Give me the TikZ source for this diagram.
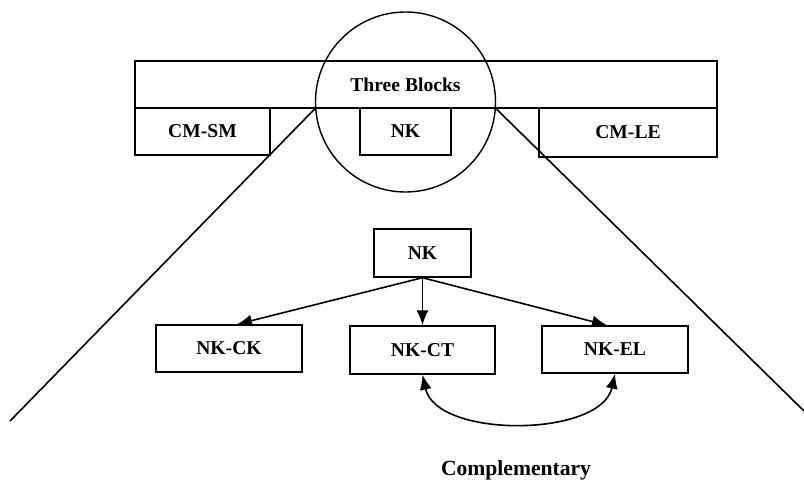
\documentclass[tikz,border=0pt]{standalone}
\usepackage{fontspec}
\setmainfont{Liberation Serif}
\usetikzlibrary{arrows.meta}
\begin{document}
\begin{tikzpicture}[x=0.5pt,y=-0.5pt,
  lbl/.style={inner sep=0pt,font=\fontsize{9.8}{12}\selectfont\bfseries},
  box/.style={draw,line width=0.7pt,lbl},
  link/.style={line width=0.8pt,-{Latex[length=7.5pt,width=6pt]}},
  guide/.style={line width=0.8pt},
]
\useasboundingbox (0,0) rectangle (804,482);

% upper band with its three blocks
\node[box,minimum width=291pt,minimum height=23.5pt] (band) at (426,84.5) {};
\node[lbl] (bandtext) at (405.5,84.5) {Three Blocks};
\node[box,minimum width=67.5pt,minimum height=23.5pt] (cmsm) at (202.5,131.5) {CM-SM};
\node[box,minimum width=45.5pt,minimum height=23.5pt] (nktop) at (405.5,131.5) {NK};
\node[box,minimum width=89pt,minimum height=24.5pt] (cmle) at (628,132.5) {CM-LE};

% magnifying lens and its widening view lines
\node[draw,circle,line width=0.7pt,inner sep=0pt,minimum size=90pt] (lens) at (405.5,102) {};
\coordinate (lensL) at (315.6,108);
\coordinate (lensR) at (495.4,108);
\coordinate (footL) at (10,421);
\coordinate (footR) at (804,411);
\draw[guide] (lensL) -- (footL);
\draw[guide] (lensR) -- (footR);

% NK decomposition
\node[box,minimum width=48.5pt,minimum height=24pt] (nk) at (422.5,253) {NK};
\node[box,minimum width=73pt,minimum height=23.5pt] (nkck) at (229,348.5) {NK-CK};
\node[box,minimum width=72.5pt,minimum height=24pt] (nkct) at (422.5,350) {NK-CT};
\node[box,minimum width=73pt,minimum height=23.5pt] (nkel) at (615,349.5) {NK-EL};

\draw[link] (nk.south) -- ([xshift=4]nkck.north);
\draw[link] (nk.south) -- (nkct.north);
\draw[link] (nk.south) -- ([xshift=-4]nkel.north);

\draw[line width=0.8pt,{Latex[length=7.5pt,width=6pt]}-{Latex[length=7.5pt,width=6pt]}]
  (nkct.south) .. controls +(14,64) and +(-14,64) .. (nkel.south);

\node[font=\fontsize{10.8}{13}\selectfont\bfseries,inner sep=0pt] (compl) at (516,470) {Complementary};
\end{tikzpicture}
\end{document}
